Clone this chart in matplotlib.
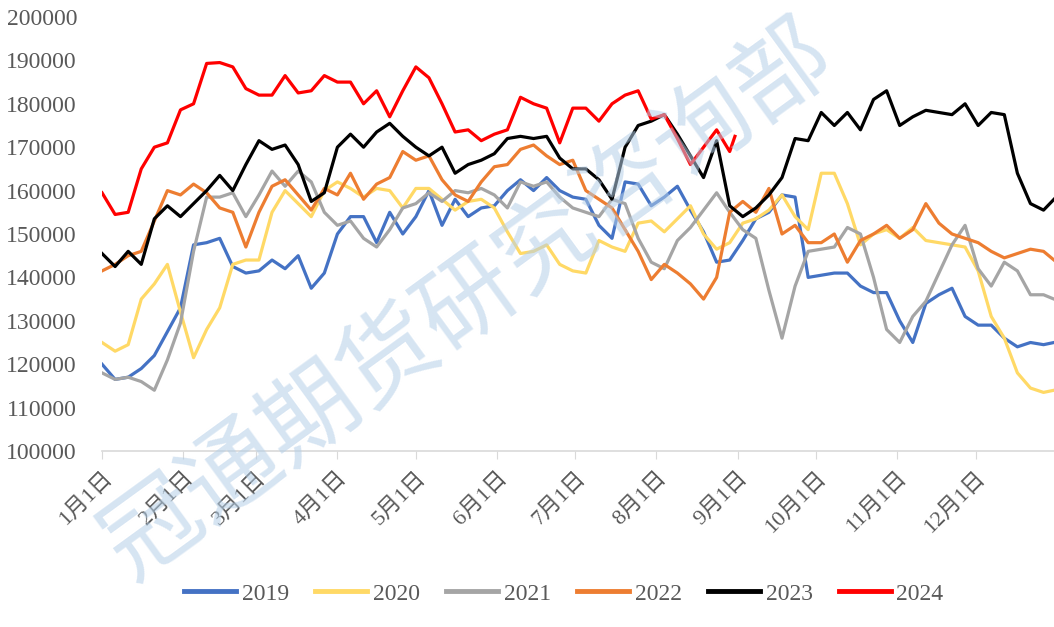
import numpy as np
import matplotlib.pyplot as plt

plt.rcParams['font.family'] = ['Liberation Serif', 'Noto Sans CJK SC', 'DejaVu Sans']

# day of year for each reading (every 5 days, last point = Dec 31)
days = list(range(0, 365, 5)) + [364]

# values in thousands
v2019 = [120, 116.5, 117, 119, 122, 127.5, 133, 147.5, 148, 149, 142.5, 141, 141.5, 144, 142, 145,
         137.5, 141, 150, 154, 154, 148, 155, 150, 154, 160, 152, 158, 154, 156, 156.5, 160, 162.5,
         160, 163, 160, 158.5, 158, 152, 149, 162, 161.5, 156.5, 158.5, 161, 155.5, 150.5, 143.5,
         144, 148.5, 153.5, 155, 159, 158.5, 140, 140.5, 141, 141, 138, 136.5, 136.5, 130, 125,
         134, 136, 137.5, 131, 129, 129, 126, 124, 125, 124.5, 125]
v2020 = [125, 123, 124.5, 135, 138.5, 143, 132, 121.5, 128, 133, 143, 144, 144, 155, 160, 157,
         154, 160, 162, 160.5, 158.5, 160.5, 160, 156, 160.5, 160.5, 158, 155.5, 157.5, 158, 156,
         150.5, 145.5, 146, 147.5, 143, 141.5, 141, 148.5, 147, 146, 152.5, 153, 150.5, 153.5,
         156.5, 150, 146.5, 148, 152.5, 153.5, 155.5, 159, 154, 151, 164, 164, 157, 147.5, 150,
         151, 149, 151.5, 148.5, 148, 147.5, 147, 141.5, 131, 126, 118, 114.5, 113.5, 114]
v2021 = [118, 116.5, 117, 116, 114, 121, 129.5, 146, 158.5, 158.5, 159.5, 154, 159, 164.5, 161,
         164.5, 162, 155, 152, 153, 149, 147, 151, 156, 157, 159.5, 157.5, 160, 159.5, 160.5, 159,
         156, 162, 161, 162, 158.5, 156, 155, 154, 158, 157, 149, 143.5, 142, 148.5, 151.5, 155.5,
         159.5, 155, 151, 149, 137, 126, 138, 146, 146.5, 147, 151.5, 150, 140, 128, 125, 131,
         134.5, 141, 147.5, 152, 142, 138, 143.5, 141.5, 136, 136, 135]
v2022 = [141.5, 143, 145, 146, 153, 160, 159, 161.5, 159.5, 156, 155, 147, 155, 161, 162.5, 159,
         155.5, 160.5, 159, 164, 158, 161.5, 163, 169, 167, 168, 162.5, 159, 157.5, 162, 165.5,
         166, 169.5, 170.5, 168, 166, 167, 160, 158, 156, 151, 146, 139.5, 143, 141, 138.5, 135,
         140, 155, 157.5, 155, 160.5, 150, 152, 148, 148, 150, 143.5, 148.5, 150, 152, 149, 151,
         157, 152.5, 150, 149, 148, 146, 144.5, 145.5, 146.5, 146, 144]
v2023 = [145.5, 142.5, 146, 143, 153.5, 156.5, 154, 157, 160, 163.5, 160, 166, 171.5, 169.5,
         170.5, 166, 157.5, 159.5, 170, 173, 170, 173.5, 175.5, 172.5, 170, 168, 170, 164, 166,
         167, 168.5, 172, 172.5, 172, 172.5, 167.5, 165, 165, 162.5, 158, 170, 175, 176, 177.5,
         173, 168, 163, 171.5, 156.5, 154, 156, 159, 163, 172, 171.5, 178, 175, 178, 174, 181,
         183, 175, 177, 178.5, 178, 177.5, 180, 175, 178, 177.5, 164, 157, 155.5, 158]
v2024 = [159.5, 154.5, 155, 165, 170, 171, 178.6, 180, 189.3, 189.5, 188.5, 183.5, 182, 182,
         186.5, 182.5, 183, 186.5, 185, 185, 180, 183, 177, 183, 188.5, 186, 180, 173.5, 174,
         171.5, 173, 174, 181.5, 180, 179, 171, 179, 179, 176, 180, 182, 183, 176.5, 177.5, 172,
         166, 170, 174, 169, 172.5]
days2024 = days[:49] + [242]

years = ['2019', '2020', '2021', '2022', '2023', '2024']
colors = ['#4472C4', '#FFD966', '#A5A5A5', '#ED7D31', '#000000', '#FF0000']
series = [v2019, v2020, v2021, v2022, v2023, v2024]

month_days = [0, 31, 59, 90, 120, 151, 181, 212, 243, 273, 304, 334]
month_labels = [f'{m}月1日' for m in range(1, 13)]

fig = plt.figure(figsize=(10.54, 6.27), dpi=100)
ax = fig.add_axes([0.0968, 0.2807, 0.9032, 0.6922])

for yr, col, vals in zip(years, colors, series):
    x = days2024 if yr == '2024' else days
    ax.plot(x, np.array(vals) * 1000, color=col, lw=2.3, label=yr)

ax.set_xlim(0, 364)
ax.set_ylim(100000, 200000)
ax.set_yticks(range(100000, 200001, 10000))
ax.set_xticks(month_days)
ax.set_xticklabels(month_labels, rotation=45, ha='right', rotation_mode='anchor')
ax.tick_params(axis='y', length=0, labelsize=17, labelcolor='#595959', pad=18)
ax.tick_params(axis='x', length=6, color='#d9d9d9', labelsize=16, labelcolor='#595959', pad=6)
for s in ['top', 'right', 'left']:
    ax.spines[s].set_visible(False)
ax.spines['bottom'].set_color('#d9d9d9')
ax.spines['bottom'].set_linewidth(1.2)

leg = fig.legend(loc='center', bbox_to_anchor=(0.535, 0.053), ncol=6, frameon=False,
                 fontsize=17, handlelength=2.2, handletextpad=0.25, columnspacing=1.1)
for t in leg.get_texts():
    t.set_color('#595959')
for h in leg.get_lines():
    h.set_linewidth(3.5)

# watermark
fig.text(0.445, 0.52, '冠通期货研究咨询部', fontsize=70, color='#b4cfe8', alpha=0.55,
         rotation=36, ha='center', va='center', family=['Noto Sans CJK SC'],
         fontweight='light')

fig.savefig('out.png', dpi=100)
